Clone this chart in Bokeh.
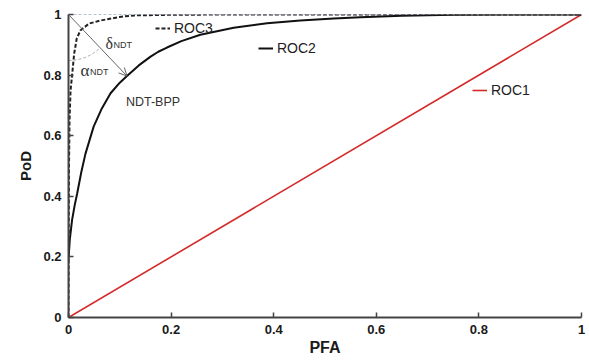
import math
from bokeh.plotting import figure
from bokeh.models import Range1d, FixedTicker, Legend, LegendItem, Label, Arrow, OpenHead
from bokeh.embed import file_html
from bokeh.resources import INLINE

# ---- data ----
roc1_pfa = [0.0, 1.0]
roc1_pod = [0.0, 1.0]

roc2_pfa = [0.0, 0.0025, 0.007, 0.012, 0.017, 0.025, 0.033, 0.049, 0.065, 0.082, 0.1, 0.114,
            0.137, 0.16, 0.175, 0.192, 0.22, 0.257, 0.322, 0.387, 0.452, 0.517, 0.569,
            0.65, 0.75, 0.85, 1.0]
roc2_pod = [0.19, 0.257, 0.322, 0.37, 0.41, 0.48, 0.54, 0.63, 0.69, 0.74, 0.775, 0.797,
            0.832, 0.861, 0.877, 0.891, 0.912, 0.933, 0.956, 0.971, 0.980, 0.987, 0.991,
            0.996, 0.999, 1.0, 1.0]

roc3_pfa = [0.0, 0.0005, 0.001, 0.002, 0.004, 0.007, 0.011, 0.016, 0.023, 0.04, 0.062,
            0.1, 0.127, 0.2, 0.3, 0.5, 1.0]
roc3_pod = [0.0, 0.3, 0.5, 0.65, 0.75, 0.8, 0.87, 0.92, 0.947, 0.97, 0.98,
            0.992, 0.997, 0.999, 1.0, 1.0, 1.0]

ideal_pfa = [0.0, 1.0]
ideal_pod = [1.0, 1.0]

ndt_bpp_pfa = 0.114
ndt_bpp_pod = 0.797

x_ticks = [0, 0.2, 0.4, 0.6, 0.8, 1]
x_tick_labels = ["0", "0.2", "0.4", "0.6", "0.8", "1"]
y_ticks = [0, 0.2, 0.4, 0.6, 0.8, 1]
y_tick_labels = ["0", "0.2", "0.4", "0.6", "0.8", "1"]

# ---- figure ----
FW, FH = 585, 358
BL, BR, BT, BB = 68, 4, 14, 40
p = figure(width=FW, height=FH, output_backend="svg", toolbar_location=None,
           x_range=Range1d(0, 1), y_range=Range1d(0, 1),
           min_border_left=BL, min_border_right=BR, min_border_top=BT, min_border_bottom=BB)
p.xgrid.visible = False
p.ygrid.visible = False
p.outline_line_color = None
p.background_fill_color = "white"

for ax, ticks, labels in ((p.xaxis[0], x_ticks, x_tick_labels), (p.yaxis[0], y_ticks, y_tick_labels)):
    ax.ticker = FixedTicker(ticks=ticks)
    ax.major_label_overrides = {t: l for t, l in zip(ticks, labels)}
    ax.minor_tick_line_color = None
    ax.major_tick_in = 5
    ax.major_tick_out = 0
    ax.axis_line_color = "#444444"
    ax.axis_line_width = 2
    ax.major_tick_line_color = "#444444"
    ax.major_tick_line_width = 1.5
    ax.major_label_text_font = "Liberation Sans"
    ax.major_label_text_font_style = "bold"
    ax.major_label_text_font_size = "13px"
    ax.major_label_text_color = "#1a1a1a"
    ax.axis_label_text_font = "Liberation Sans"
    ax.axis_label_text_font_style = "bold"
    ax.axis_label_text_color = "#1a1a1a"

p.xaxis.axis_label = "PFA"
p.xaxis.axis_label_text_font_size = "16px"
p.xaxis.major_label_standoff = 7
p.xaxis.axis_label_standoff = 2
p.yaxis.axis_label = "PoD"
p.yaxis.axis_label_text_font_size = "15px"
p.yaxis.major_label_standoff = 7
p.yaxis.axis_label_standoff = 6

# ---- lines ----
p.line(ideal_pfa, ideal_pod, line_color="#7080a8", line_width=1, line_dash="3 2")
r1 = p.line(roc1_pfa, roc1_pod, line_color="#d42a2a", line_width=1.6)
r2 = p.line(roc2_pfa, roc2_pod, line_color="#111111", line_width=2)
r3 = p.line(roc3_pfa, roc3_pod, line_color="#222222", line_width=2, line_dash="4 2")

# ---- NDT-BPP arrow and angle ----
p.add_layout(Arrow(x_start=0, y_start=1, x_end=ndt_bpp_pfa, y_end=ndt_bpp_pod,
                   line_color="#666666", line_width=1,
                   end=OpenHead(size=8, line_color="#666666", line_width=1)))
frame_w = FW - BL - BR
frame_h = FH - BT - BB
ang = math.atan2(-(1 - ndt_bpp_pod) * frame_h, ndt_bpp_pfa * frame_w)
p.arc(x=[0], y=[1], radius=46, radius_units="screen", start_angle=-math.pi / 2,
      end_angle=ang, line_color="#aaaaaa", line_width=1, line_dash="3 2")

serif = "Liberation Serif"
sans = "Liberation Sans"
p.add_layout(Label(x=0.072, y=0.903, text="δ", text_font=serif, text_font_size="16px",
                   text_color="#333333", text_baseline="alphabetic"))
p.add_layout(Label(x=0.0877, y=0.899, text="NDT", text_font=sans, text_font_size="9px",
                   text_color="#333333", text_baseline="alphabetic"))
p.add_layout(Label(x=0.0234, y=0.816, text="α", text_font=serif, text_font_size="17px",
                   text_color="#333333", text_baseline="alphabetic"))
p.add_layout(Label(x=0.042, y=0.809, text="NDT", text_font=sans, text_font_size="9px",
                   text_color="#333333", text_baseline="alphabetic"))
p.add_layout(Label(x=ndt_bpp_pfa - 0.002, y=ndt_bpp_pod - 0.086, text="NDT-BPP", text_font=sans,
                   text_font_size="12.5px", text_color="#333333", text_baseline="alphabetic"))

# ---- in-plot legends ----
def mk_legend(name, rend, loc):
    lg = Legend(items=[LegendItem(label=name, renderers=[rend])], location=loc,
                glyph_width=15, glyph_height=14, label_standoff=4, padding=0, margin=0,
                spacing=0, border_line_color=None, background_fill_alpha=0,
                label_text_font=sans, label_text_font_size="14px", label_text_color="#222222")
    p.add_layout(lg)

mk_legend("ROC3", r3, (87, 281))
mk_legend("ROC2", r2, (190, 261))
mk_legend("ROC1", r1, (404, 219))

open("out.html", "w").write(file_html(p, INLINE))
